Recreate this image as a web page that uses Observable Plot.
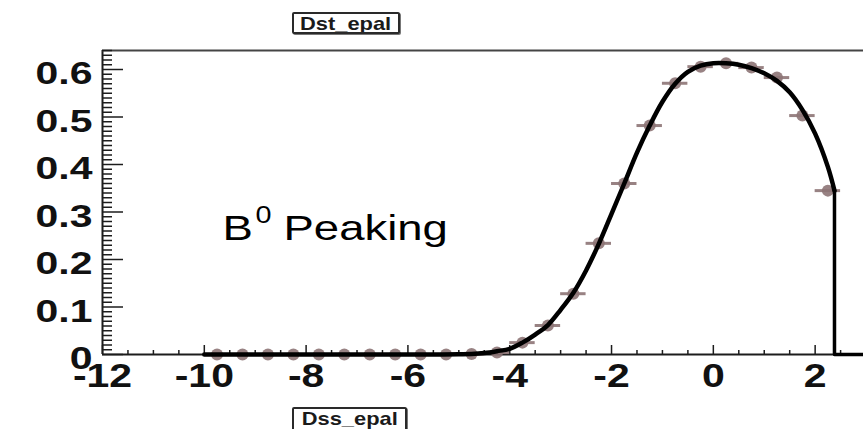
<!DOCTYPE html>
<html>
<head>
<meta charset="utf-8">
<script src="https://cdn.jsdelivr.net/npm/d3@7"></script>
<script src="https://cdn.jsdelivr.net/npm/@observablehq/plot@0.6"></script>
<style>
  html, body { margin: 0; padding: 0; background: #fff; }
  #wrap { position: relative; width: 863px; height: 429px; overflow: hidden; font-family: "Liberation Sans", Arial, sans-serif; }
  .hbox { position: absolute; border: 2px solid #2a2a2a; border-radius: 2px; box-shadow: 1px 1px 0 #777; background: #fff; box-sizing: border-box; text-align: center; overflow: hidden; }
  .hbox span { display: inline-block; font-size: 19px; font-weight: bold; color: #1a1a1a; transform: scaleX(1.15); transform-origin: center; line-height: 19px; }
</style>
</head>
<body>
<div id="wrap">
  <div class="hbox" style="left:292px; top:12px; width:108px; height:22px;"><span>Dst_epal</span></div>
  <div class="hbox" style="left:292px; top:407px; width:115px; height:26px;"><span>Dss_epal</span></div>
</div>
<script>
// ---- data ----
const binCenters = [-9.75, -9.25, -8.75, -8.25, -7.75, -7.25, -6.75, -6.25, -5.75, -5.25,
  -4.75, -4.25, -3.75, -3.25, -2.75, -2.25, -1.75, -1.25, -0.75, -0.25,
  0.25, 0.75, 1.25, 1.75, 2.25];
const binValues = [0, 0, 0, 0, 0, 0, 0, 0, 0, 0,
  0.001, 0.004, 0.025, 0.061, 0.128, 0.234, 0.36, 0.482, 0.571, 0.606,
  0.613, 0.604, 0.583, 0.503, 0.345];
const binHalfWidth = 0.25;

const fitX = [-10, -9, -8, -7, -6, -5.5, -5, -4.75, -4.5, -4.25, -4, -3.75, -3.5, -3.25, -3, -2.75, -2.5, -2.25,
  -2, -1.75, -1.5, -1.25, -1, -0.75, -0.5, -0.25, 0, 0.25, 0.5, 0.75, 1, 1.25, 1.5, 1.75, 2, 2.25, 2.38];
const fitY = [0, 0, 0, 0, 0, 0, 0.0005, 0.001, 0.003, 0.007, 0.012, 0.025, 0.042, 0.062, 0.094, 0.13, 0.177, 0.233,
  0.296, 0.36, 0.425, 0.482, 0.532, 0.57, 0.595, 0.608, 0.613, 0.613, 0.61, 0.603, 0.592, 0.576, 0.552, 0.515, 0.465, 0.395, 0.345];
const cutX = [2.38, 2.38, 2.95];
const cutY = [0.345, 0, 0];

const xDomain = [-12, 2.95];
const yDomain = [0, 0.64];
const xTicks = [-12, -10, -8, -6, -4, -2, 0, 2];
const xTickLabels = ["-12", "-10", "-8", "-6", "-4", "-2", "0", "2"];
const yTicks = [0, 0.1, 0.2, 0.3, 0.4, 0.5, 0.6];
const yTickLabels = ["0", "0.1", "0.2", "0.3", "0.4", "0.5", "0.6"];
const xMinor = d3.range(-12, 2.95, 0.5).filter(v => !xTicks.includes(v));
const yMinor = d3.range(0, 0.6401, 0.01).map(v => +v.toFixed(2)).filter(v => !yTicks.includes(v));

// ---- build tables ----
const bins = binCenters.map((x, i) => ({x, y: binValues[i]}));
const fit = fitX.map((x, i) => ({x, y: fitY[i]}));
const cut = cutX.map((x, i) => ({x, y: cutY[i]}));

const W = 863, H = 429, mL = 102, mR = 0, mT = 50, mB = 75;
const innerW = W - mL - mR, innerH = H - mT - mB;
const ptColor = "#8d7476";
const axColor = "#1c1c1c";

const chart = Plot.plot({
  width: W, height: H,
  marginLeft: mL, marginRight: mR, marginTop: mT, marginBottom: mB,
  x: {domain: xDomain, axis: null},
  y: {domain: yDomain, axis: null},
  style: {background: "white", fontFamily: "'Liberation Sans', Arial, Helvetica, sans-serif", overflow: "visible"},
  marks: [
    // frame
    Plot.ruleX([xDomain[0]], {stroke: axColor, strokeWidth: 2}),
    Plot.ruleY([yDomain[1]], {stroke: "#444", strokeWidth: 2}),
    Plot.ruleY([0], {stroke: axColor, strokeWidth: 2}),
    // y ticks (inward)
    Plot.tickY(yTicks, {y: d => d, stroke: axColor, strokeWidth: 1.5, insetRight: innerW - 21}),
    Plot.tickY(yMinor, {y: d => d, stroke: axColor, strokeWidth: 1.5, insetRight: innerW - 10}),
    // x ticks (upward)
    Plot.tickX(xTicks, {x: d => d, stroke: axColor, strokeWidth: 1.5, insetTop: innerH - 9}),
    Plot.tickX(xMinor, {x: d => d, stroke: axColor, strokeWidth: 1.5, insetTop: innerH - 4}),
    // tick labels
    Plot.text(yTicks, {y: d => d, text: (d, i) => yTickLabels[i], frameAnchor: "left", textAnchor: "end",
      dx: -10, dy: 5, fontSize: 31, fontWeight: "bold", fill: "#111"}),
    Plot.text(xTicks, {x: d => d, text: (d, i) => xTickLabels[i], frameAnchor: "bottom", lineAnchor: "top",
      dy: 9, fontSize: 33, fontWeight: "bold", fill: "#111"}),
    // data points with bin-width bars
    Plot.ruleY(bins, {y: "y", x1: d => d.x - binHalfWidth, x2: d => d.x + binHalfWidth, stroke: ptColor, strokeWidth: 3, strokeOpacity: 0.9}),
    Plot.dot(bins, {x: "x", y: "y", r: 6, fill: ptColor, fillOpacity: 0.9}),
    // fit curve
    Plot.line(fit, {x: "x", y: "y", stroke: "black", strokeWidth: 4.5, curve: "catmull-rom"}),
    Plot.line(cut, {x: "x", y: "y", stroke: "black", strokeWidth: 3.5}),
    // annotation
    Plot.text(["B"], {text: d => d, frameAnchor: "top-left", textAnchor: "start", lineAnchor: "middle",
      dx: 120, dy: 178, fontSize: 35, fill: "#000"}),
    Plot.text(["0"], {text: d => d, frameAnchor: "top-left", textAnchor: "start", lineAnchor: "middle",
      dx: 153, dy: 165, fontSize: 23, fill: "#000"}),
    Plot.text(["Peaking"], {text: d => d, frameAnchor: "top-left", textAnchor: "start", lineAnchor: "middle",
      dx: 181, dy: 178, fontSize: 35, fill: "#000"})
  ]
});

const wrap = document.getElementById("wrap");
chart.style.position = "absolute";
chart.style.left = "0px";
chart.style.top = "0px";
wrap.insertBefore(chart, wrap.firstChild);

// The reference is horizontally stretched: widen the glyphs accordingly.
const stretchBySize = {"31": 1.32, "33": 1.24, "35": 1.3, "23": 1.25};
chart.querySelectorAll("text").forEach(t => {
  const g = t.closest("g[font-size]");
  const fs = g ? g.getAttribute("font-size") : null;
  const k = stretchBySize[fs] || 1;
  const w = t.getComputedTextLength();
  if (w > 0 && k !== 1) {
    t.setAttribute("textLength", (w * k).toFixed(1));
    t.setAttribute("lengthAdjust", "spacingAndGlyphs");
  }
});
</script>
</body>
</html>
